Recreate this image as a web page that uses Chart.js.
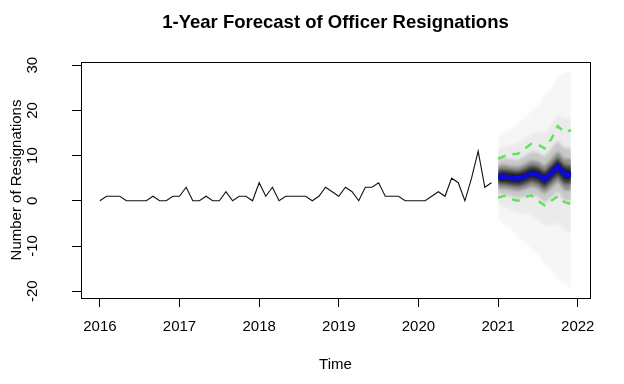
<!DOCTYPE html>
<html><head><meta charset="utf-8">
<script src="https://cdn.jsdelivr.net/npm/chart.js@4.4.1/dist/chart.umd.min.js"></script>
<style>html,body{margin:0;padding:0;background:#fff;}canvas{display:block;}</style>
</head><body>
<canvas id="c" width="624" height="384"></canvas>
<script>
// ---- data ----
const histStart = 2016;          // first month of the observed series
const fcStart = 2021;            // first month of the forecast
const monthsPerYear = 12;

const resignations = [0,1,1,1,0,0,0,0,1,0,0,1,
                      1,3,0,0,1,0,0,2,0,1,1,0,
                      4,1,3,0,1,1,1,1,0,1,3,2,
                      1,3,2,0,3,3,4,1,1,1,0,0,
                      0,0,1,2,1,5,4,0,5,11,3,4];

const forecastMean = [5.3, 5.3, 5.1, 4.9, 5.4, 6.1, 5.8, 4.7, 6.1, 7.6, 5.8, 5.8];
const altUpper = [9.3, 9.9, 10.3, 10.4, 11.5, 12.6, 12.4, 11.6, 13.6, 16.5, 15.2, 15.6];
const altLower = [0.7, 1.1, 0.4, 0.0, 0.8, 1.2, 0.0, -1.0, 0.0, 1.0, -0.3, -0.7];

// fan bands, outermost first
const fan99Upper = [14.5, 15.4, 15.8, 17.2, 18.3, 20.0, 21.2, 23.3, 24.8, 27.6, 28.3, 28.8];
const fan99Lower = [-4.0, -5.2, -6.3, -8.2, -9.0, -10.8, -11.8, -13.8, -15.2, -17.3, -18.3, -19.6];
const fan90Upper = [11.5, 12.0, 12.4, 12.8, 13.8, 14.8, 15.2, 15.0, 16.8, 19.0, 18.2, 18.4];
const fan90Lower = [-0.9, -1.4, -2.1, -2.8, -2.9, -3.2, -4.0, -5.5, -5.5, -5.0, -6.6, -7.2];
const fan80Upper = [9.1, 9.3, 9.2, 9.1, 9.9, 10.8, 10.7, 9.8, 11.5, 13.2, 11.6, 11.7];
const fan80Lower = [1.5, 1.3, 1.0, 0.6, 0.9, 1.4, 0.9, -0.4, 0.7, 2.0, 0.0, -0.1];
const fan65Upper = [7.8, 7.9, 7.6, 7.5, 8.1, 8.9, 8.7, 7.7, 9.2, 10.9, 9.2, 9.3];
const fan65Lower = [2.8, 2.7, 2.5, 2.2, 2.6, 3.2, 2.8, 1.6, 2.9, 4.3, 2.4, 2.3];
const fan50Upper = [6.9, 6.9, 6.7, 6.5, 7.1, 7.8, 7.6, 6.5, 8.0, 9.6, 7.8, 7.8];
const fan50Lower = [3.7, 3.7, 3.4, 3.2, 3.6, 4.3, 3.9, 2.8, 4.1, 5.5, 3.7, 3.7];
const fan30Upper = [6.2, 6.2, 6.0, 5.8, 6.3, 7.0, 6.7, 5.7, 7.1, 8.7, 6.9, 6.9];
const fan30Lower = [4.4, 4.4, 4.2, 4.0, 4.5, 5.2, 4.9, 3.7, 5.1, 6.5, 4.7, 4.7];

const xTickYears = [2016, 2017, 2018, 2019, 2020, 2021, 2022];
const yTickValues = [-20, -10, 0, 10, 20, 30];

const titleText = '1-Year Forecast of Officer Resignations';
const xTitle = 'Time';
const yTitle = 'Number of Resignations';

// ---- build ----
function toPoints(start, values) {
  return values.map((v, i) => ({x: start + i / monthsPerYear, y: v}));
}

const fanBands = [
  [fan99Upper, fan99Lower, '#f6f6f6'],
  [fan90Upper, fan90Lower, '#ebebeb'],
  [fan80Upper, fan80Lower, '#c8c8c8'],
  [fan65Upper, fan65Lower, '#8e8e8e'],
  [fan50Upper, fan50Lower, '#474747'],
  [fan30Upper, fan30Lower, '#161616']
];

const datasets = [];
fanBands.forEach(([up, lo, col], k) => {
  const ord = 100 - k * 10;
  datasets.push({data: toPoints(fcStart, up), borderWidth: 0, pointRadius: 0, fill: false, order: ord, isBand: true});
  datasets.push({data: toPoints(fcStart, lo), borderWidth: 0, pointRadius: 0, fill: '-1', backgroundColor: col, order: ord, isBand: true});
});
datasets.push({label: 'upper', data: toPoints(fcStart, altUpper), borderColor: '#62e35c', borderWidth: 2.5, borderDash: [8, 7], pointRadius: 0, fill: false, order: 3});
datasets.push({label: 'lower', data: toPoints(fcStart, altLower), borderColor: '#62e35c', borderWidth: 2.5, borderDash: [8, 7], pointRadius: 0, fill: false, order: 3});
datasets.push({label: 'mean', data: toPoints(fcStart, forecastMean), borderColor: '#0c0cd0', borderWidth: 5, pointRadius: 0, fill: false, order: 2});
datasets.push({label: 'observed', data: toPoints(histStart, resignations), borderColor: '#111', borderWidth: 1.1, pointRadius: 0, fill: false, order: 1});

const FONT = "'Liberation Sans', Arial, Helvetica, sans-serif";

const fanBlur = {
  id: 'fanBlur',
  beforeDatasetsDraw(chart) { chart.ctx.filter = 'blur(1.5px)'; },
  beforeDatasetDraw(chart, args) {
    if (!chart.data.datasets[args.index].isBand) chart.ctx.filter = 'none';
  },
  afterDatasetsDraw(chart) { chart.ctx.filter = 'none'; },
  afterLayout(chart) {
    if (chart.titleBlock) {
      chart.titleBlock.left = chart.chartArea.left;
      chart.titleBlock.right = chart.chartArea.right;
    }
  }
};

new Chart(document.getElementById('c'), {
  type: 'line',
  data: {datasets},
  options: {
    responsive: false,
    devicePixelRatio: 1,
    animation: false,
    layout: {padding: {left: 0, right: 34, top: 0, bottom: 0}},
    plugins: {
      legend: {display: false},
      tooltip: {enabled: false},
      title: {
        display: true, text: titleText, color: '#000',
        font: {family: FONT, size: 18.5, weight: 'bold', lineHeight: 1.2},
        padding: {top: 11.5, bottom: 28.3}
      }
    },
    scales: {
      x: {
        type: 'linear', position: 'bottom', min: 2015.763, max: 2022.154,
        afterBuildTicks: s => { s.ticks = xTickYears.map(v => ({value: v})); },
        afterFit: s => { s.height = 86; },
        ticks: {color: '#000', font: {family: FONT, size: 15}, padding: 11, maxRotation: 0, autoSkip: false,
                callback: v => String(v)},
        grid: {display: true, drawOnChartArea: false, drawTicks: true, tickLength: 9, color: '#000', lineWidth: 1},
        border: {display: true, color: '#000', width: 1},
        title: {display: true, text: xTitle, color: '#000', font: {family: FONT, size: 15}, padding: {top: 0, bottom: 10}}
      },
      y: {
        type: 'linear', position: 'left', min: -21.5, max: 30.7,
        afterBuildTicks: s => { s.ticks = yTickValues.map(v => ({value: v})); },
        afterFit: s => { s.width = 81; },
        ticks: {color: '#000', font: {family: FONT, size: 15}, padding: 28, minRotation: 90, maxRotation: 90,
                crossAlign: 'center', autoSkip: false, callback: v => String(v)},
        grid: {display: true, drawOnChartArea: false, drawTicks: true, tickLength: 9, color: '#000', lineWidth: 1},
        border: {display: true, color: '#000', width: 1},
        title: {display: true, text: yTitle, color: '#000', font: {family: FONT, size: 15}, padding: {top: 8, bottom: 0}}
      },
      xTop: {
        type: 'linear', position: 'top', display: true,
        afterFit: s => { s.height = 0; },
        ticks: {display: false}, grid: {display: false, drawTicks: false},
        border: {display: true, color: '#000', width: 1}
      },
      yRight: {
        type: 'linear', position: 'right', display: true,
        afterFit: s => { s.width = 0; },
        ticks: {display: false}, grid: {display: false, drawTicks: false},
        border: {display: true, color: '#000', width: 1}
      }
    }
  },
  plugins: [fanBlur]
});
</script>
</body></html>
